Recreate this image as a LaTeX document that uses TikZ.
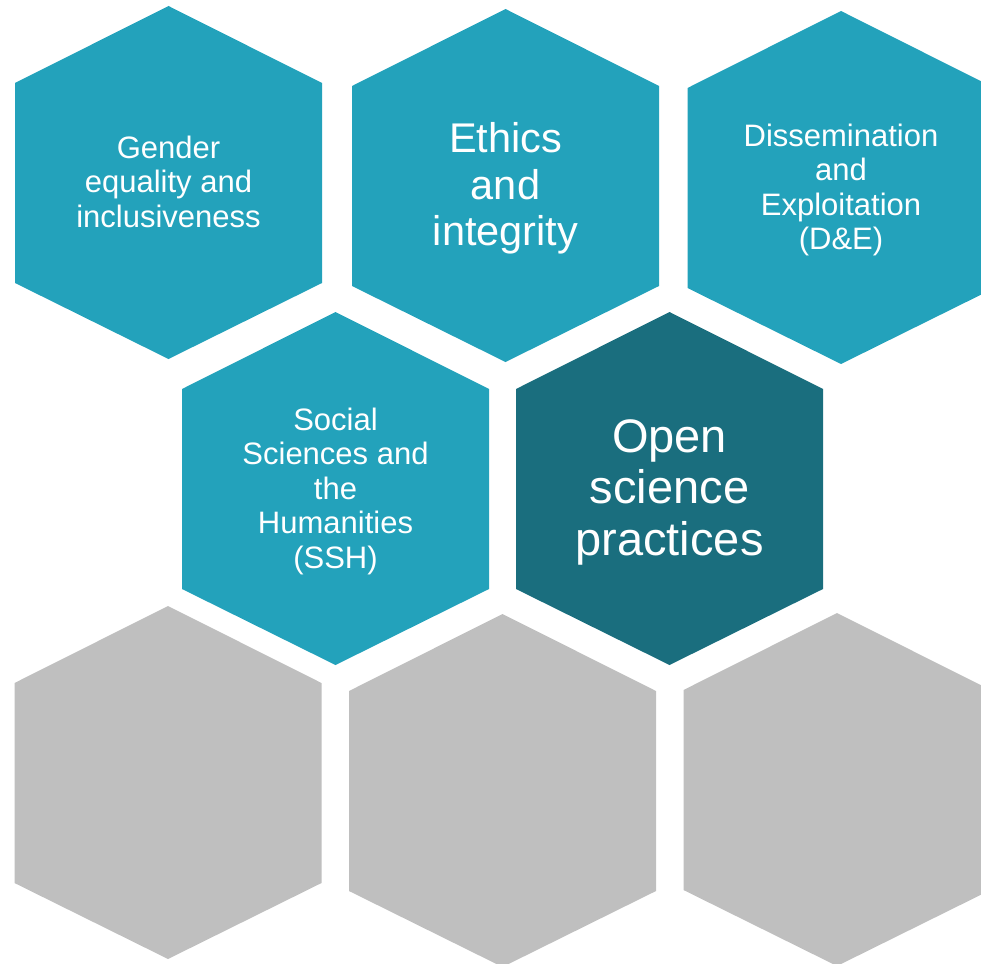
\documentclass[tikz,border=0pt]{standalone}
\usepackage{fontspec}
\setmainfont{Liberation Sans}
\definecolor{hexteal}{RGB}{35,162,187}
\definecolor{hexdark}{RGB}{26,110,126}
\definecolor{hexgray}{RGB}{191,191,191}
\newcommand\hexshape[3]{\fill[#3] (#1,#2) -- ++(153.5,77) -- ++(0,200) -- ++(-153.5,76) -- ++(-153.5,-76) -- ++(0,-200) -- cycle;}
\begin{document}
\begin{tikzpicture}[x=1pt,y=-1pt,
  hexlabel/.style={text=white, align=center, inner sep=0pt},
  smalltxt/.style={hexlabel, font=\fontsize{31}{34.5}\selectfont},
  midtxt/.style={hexlabel, font=\fontsize{41.5}{46.5}\selectfont},
  bigtxt/.style={hexlabel, font=\fontsize{47}{51.5}\selectfont}]
\clip (0,0) rectangle (981,963);
% top row
\hexshape{168.5}{6}{hexteal}
\hexshape{505.5}{9}{hexteal}
\hexshape{841}{11}{hexteal}
% middle row
\hexshape{335.5}{312}{hexteal}
\hexshape{669.5}{312}{hexdark}
% bottom row
\hexshape{168}{606}{hexgray}
\hexshape{502.5}{614}{hexgray}
\hexshape{837}{613}{hexgray}
% labels
\node[smalltxt] (gender) at (168.5,181.5) {Gender\\equality and\\inclusiveness};
\node[midtxt] (ethics) at (505.5,188.5) {Ethics\\and\\integrity};
\node[smalltxt] (de) at (841,190) {Dissemination\\and\\Exploitation\\(D\&E)};
\node[smalltxt] (ssh) at (335.5,491) {Social\\Sciences and\\the\\Humanities\\(SSH)};
\node[bigtxt] (open) at (669.5,492) {Open\\science\\practices};
\end{tikzpicture}
\end{document}
